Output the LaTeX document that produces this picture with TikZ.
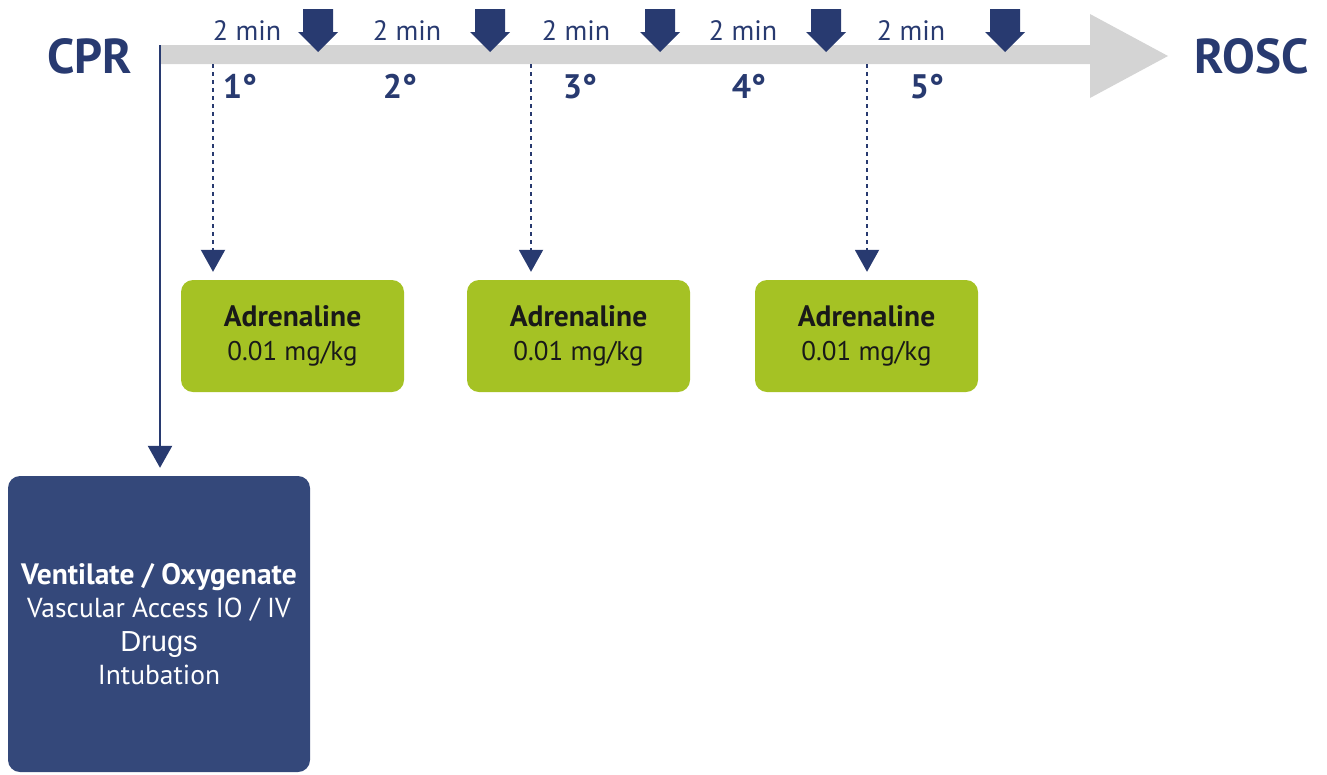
\documentclass[tikz,border=0pt]{standalone}
\usepackage{fontspec}
\setmainfont{PT Sans}
\newfontfamily\drugsfont{Liberation Sans}
\usetikzlibrary{positioning,arrows.meta}
\definecolor{navy}{RGB}{40,58,112}
\definecolor{boxblue}{RGB}{52,72,122}
\definecolor{limegreen}{RGB}{165,194,36}
\definecolor{bargray}{RGB}{212,212,212}
\newcommand{\boldline}[1]{{\bfseries\fontsize{29.5}{34}\selectfont #1}}

\begin{document}
\begin{tikzpicture}[x=1pt, y=-1pt,
      title/.style={font=\bfseries\fontsize{49}{49}\selectfont, text=navy, anchor=base},
      interval/.style={font=\fontsize{28}{28}\selectfont, text=navy, anchor=base},
      cyclelabel/.style={font=\bfseries\fontsize{34}{34}\selectfont, text=navy, anchor=base},
      dose/.style={rectangle, fill=limegreen, rounded corners=12pt, minimum width=223pt, minimum height=112pt, align=center, text=black!90, font=\fontsize{27}{34}\selectfont},
      care/.style={rectangle, fill=boxblue, rounded corners=12pt, minimum width=302pt, minimum height=296pt, align=center, text=white, font=\fontsize{27.5}{33.5}\selectfont},
      shock/.style={fill=navy},
      line/.style={draw=navy, line width=2.5pt, -{Triangle[length=22pt, width=24pt]}, shorten >=8pt},
      dotline/.style={line, line width=2pt, dash pattern=on 4pt off 4pt}
    ]
    \useasboundingbox (0,0) rectangle (1327,774);

    % timeline
    \fill [bargray] (160,45) -- (1090,45) -- (1090,14) -- (1168,56) -- (1090,98) -- (1090,64) -- (160,64) -- cycle;
    \node [title] (cpr) at (90,73) {CPR};
    \node [title] (rosc) at (1252,73) {ROSC};

    % shocks
    \fill [shock] (303,9) -- (333,9) -- (333,32) -- (338,32) -- (318,52) -- (298,32) -- (303,32) -- cycle;
    \fill [shock] (475,9) -- (505,9) -- (505,32) -- (510,32) -- (490,52) -- (470,32) -- (475,32) -- cycle;
    \fill [shock] (645,9) -- (675,9) -- (675,32) -- (680,32) -- (660,52) -- (640,32) -- (645,32) -- cycle;
    \fill [shock] (811,9) -- (841,9) -- (841,32) -- (846,32) -- (826,52) -- (806,32) -- (811,32) -- cycle;
    \fill [shock] (990,9) -- (1020,9) -- (1020,32) -- (1025,32) -- (1005,52) -- (985,32) -- (990,32) -- cycle;

    \node [interval] (t1) at (247,40) {2 min};
    \node [interval] (t2) at (407,40) {2 min};
    \node [interval] (t3) at (576,40) {2 min};
    \node [interval] (t4) at (743,40) {2 min};
    \node [interval] (t5) at (911,40) {2 min};

    \node [cyclelabel] (c1) at (240,98) {1°};
    \node [cyclelabel] (c2) at (400,98) {2°};
    \node [cyclelabel] (c3) at (580,98) {3°};
    \node [cyclelabel] (c4) at (749,98) {4°};
    \node [cyclelabel] (c5) at (927,98) {5°};

    % drugs
    \node [dose] (adr1) at (292.5,336) {\boldline{Adrenaline}\\0.01 mg/kg};
    \node [dose] (adr2) at (578.5,336) {\boldline{Adrenaline}\\0.01 mg/kg};
    \node [dose] (adr3) at (866.5,336) {\boldline{Adrenaline}\\0.01 mg/kg};
    \node [care] (support) at (159,624) {\boldline{Ventilate / Oxygenate}\\Vascular Access IO / IV\\{\drugsfont\fontsize{29}{33.5}\selectfont Drugs}\\Intubation};

    \coordinate (start) at (160,45);
    \coordinate (d1) at (213,64);
    \coordinate (d2) at (531,64);
    \coordinate (d3) at (867,64);

    \path [line] (start) -- (support.north -| start);
    \path [dotline] (d1) -- (d1 |- adr1.north);
    \path [dotline] (d2) -- (d2 |- adr2.north);
    \path [dotline] (d3) -- (d3 |- adr3.north);

    \end{tikzpicture}
\end{document}
